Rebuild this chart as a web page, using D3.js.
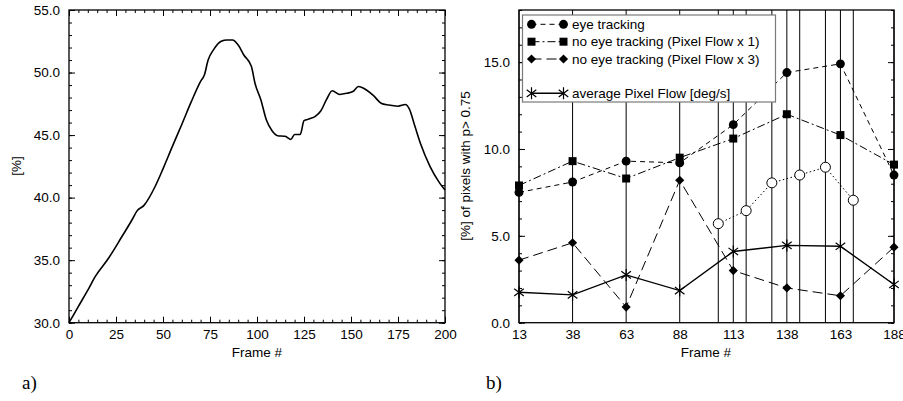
<!DOCTYPE html>
<head>
<script src="https://d3js.org/d3.v7.min.js"></script>
<meta charset="utf-8">
<style>
body { margin: 0; background: #fff; }
text { font-family: "Liberation Sans", Arial, sans-serif; font-size: 13.5px; fill: #000; }
.panel-tag { font-family: "Liberation Serif", "Times New Roman", serif; font-size: 19px; }
.axis path, .axis line { stroke: #000; }
</style>
</head>
<body>
<svg id="chart"></svg>
<script>

// panel a) : overlap percentage per frame
var framesA = [0, 5, 10, 14, 21, 28, 34, 36, 40, 46, 50, 55, 60, 65, 70, 72, 74, 77, 81, 84, 87,
               90, 93, 97, 99, 102, 105, 108, 111, 115, 118, 120, 123, 125, 128, 131, 134, 137,
               140, 144, 148, 151, 154, 158, 162, 166, 170, 175, 179, 181, 184, 187, 192, 197, 200];
var percentA = [30.0, 31.3, 32.6, 33.7, 35.15, 36.85, 38.35, 38.9, 39.4, 40.95, 42.3, 44.1, 45.85,
                47.65, 49.3, 49.8, 51.0, 51.85, 52.5, 52.6, 52.6, 52.2, 51.4, 50.5, 49.1, 47.85,
                46.2, 45.35, 44.95, 44.9, 44.65, 45.05, 45.05, 46.15, 46.3, 46.5, 46.95, 47.85,
                48.55, 48.25, 48.35, 48.48, 48.88, 48.62, 48.15, 47.55, 47.4, 47.31, 47.45, 47.1,
                45.7, 44.3, 42.5, 41.2, 40.6];
var xTicksA = [0, 25, 50, 75, 100, 125, 150, 175, 200];
var yTicksA = [30, 35, 40, 45, 50, 55];

// panel b) : pixels with p > 0.75
var framesB = [13, 38, 63, 88, 113, 138, 163, 188];
var eyeTracking = [7.5, 8.1, 9.3, 9.2, 11.4, 14.4, 14.9, 8.5];
var noEyeX1 = [7.9, 9.3, 8.3, 9.5, 10.6, 12.0, 10.8, 9.1];
var noEyeX3 = [3.6, 4.6, 0.9, 8.2, 3.0, 2.0, 1.55, 4.35];
var avgFlow = [1.75, 1.6, 2.75, 1.85, 4.1, 4.45, 4.4, 2.2];
var framesOpen = [106, 119, 131, 144, 156, 169];
var eyeOpen = [5.7, 6.45, 8.05, 8.5, 8.95, 7.05];
var yTicksB = [0, 5, 10, 15];
var legendLabels = ["eye tracking", "no eye tracking (Pixel Flow x 1)",
                    "no eye tracking (Pixel Flow x 3)", "average Pixel Flow [deg/s]"];

var width = 903, height = 401;
var svg = d3.select("#chart").attr("width", width).attr("height", height);

var plotTop = 10, plotBottom = 322.7;

// ---------- panel a ----------
var xa = d3.scaleLinear().domain([0, 200]).range([69, 445]);
var ya = d3.scaleLinear().domain([30, 55]).range([plotBottom, plotTop]);

function frameAxes(g, x, y, xMajor, xMinor, yMajor, yMinor, fmtY, showXTicks) {
  // minor ticks
  g.append("g").attr("class", "axis").attr("transform", "translate(0," + plotBottom + ")")
    .call(d3.axisBottom(x).tickValues(showXTicks ? xMinor : []).tickSize(-3).tickFormat(""));
  g.append("g").attr("class", "axis").attr("transform", "translate(0," + plotTop + ")")
    .call(d3.axisTop(x).tickValues(showXTicks ? xMinor : []).tickSize(-3).tickFormat(""));
  g.append("g").attr("class", "axis").attr("transform", "translate(" + x.range()[0] + ",0)")
    .call(d3.axisLeft(y).tickValues(yMinor).tickSize(-3).tickFormat(""));
  g.append("g").attr("class", "axis").attr("transform", "translate(" + x.range()[1] + ",0)")
    .call(d3.axisRight(y).tickValues(yMinor).tickSize(-3).tickFormat(""));
  // major ticks + labels
  g.append("g").attr("class", "axis").attr("transform", "translate(0," + plotBottom + ")")
    .call(d3.axisBottom(x).tickValues(xMajor).tickSize(showXTicks ? -6 : 0).tickPadding(7).tickFormat(d3.format("d")));
  g.append("g").attr("class", "axis").attr("transform", "translate(0," + plotTop + ")")
    .call(d3.axisTop(x).tickValues(showXTicks ? xMajor : []).tickSize(-6).tickFormat(""));
  g.append("g").attr("class", "axis").attr("transform", "translate(" + x.range()[0] + ",0)")
    .call(d3.axisLeft(y).tickValues(yMajor).tickSize(-6).tickPadding(9).tickFormat(fmtY));
  g.append("g").attr("class", "axis").attr("transform", "translate(" + x.range()[1] + ",0)")
    .call(d3.axisRight(y).tickValues(yMajor).tickSize(-6).tickFormat(""));
  g.selectAll(".axis text").style("font-size", "13.5px").style("font-family", "Liberation Sans, Arial, sans-serif");
  g.selectAll(".axis .domain").remove();
  g.append("rect")
    .attr("x", x.range()[0]).attr("y", plotTop)
    .attr("width", x.range()[1] - x.range()[0]).attr("height", plotBottom - plotTop)
    .attr("fill", "none").attr("stroke", "#000").attr("stroke-width", 1.3);
}

var ga = svg.append("g");
frameAxes(ga, xa, ya, xTicksA, d3.range(0, 201, 5), yTicksA, d3.range(30, 56, 1), d3.format(".1f"), true);

ga.append("path")
  .datum(framesA.map((f, i) => [f, percentA[i]]))
  .attr("fill", "none").attr("stroke", "#000").attr("stroke-width", 1.6)
  .attr("d", d3.line().x(d => xa(d[0])).y(d => ya(d[1])).curve(d3.curveMonotoneX));

ga.append("text").attr("x", 257).attr("y", 357).attr("text-anchor", "middle").text("Frame #");
ga.append("text").attr("transform", "translate(21,166) rotate(-90)")
  .attr("text-anchor", "middle").text("[%]");
ga.append("text").attr("class", "panel-tag").attr("x", 22).attr("y", 389).text("a)");

// ---------- panel b ----------
var xb = d3.scaleLinear().domain([13, 188]).range([519, 894]);
var yb = d3.scaleLinear().domain([0, 18]).range([plotBottom, plotTop]);

var gb = svg.append("g");

// vertical lines at every sampled frame
gb.append("g").selectAll("line")
  .data(framesB.concat(framesOpen))
  .join("line")
  .attr("x1", d => xb(d)).attr("x2", d => xb(d))
  .attr("y1", plotTop).attr("y2", plotBottom)
  .attr("stroke", "#000").attr("stroke-width", 1);

frameAxes(gb, xb, yb, framesB, [], yTicksB, d3.range(0, 19, 1), d3.format(".1f"), false);

var lineB = d3.line().x(d => xb(d[0])).y(d => yb(d[1]));

function star(sel, r) {
  var a = r * 0.8, b = r * 0.6;
  sel.attr("d", "M0," + (-r) + "L0," + r +
    "M" + (-a) + "," + (-b) + "L" + a + "," + b +
    "M" + (-a) + "," + b + "L" + a + "," + (-b))
    .attr("fill", "none").attr("stroke", "#000").attr("stroke-width", 1.2);
}

var series = [
  { vals: eyeTracking, dash: "5,4", symbol: d3.symbolCircle, size: 62, rot: 0 },
  { vals: noEyeX1, dash: "8,3,2,3", symbol: d3.symbolSquare, size: 64, rot: 0 },
  { vals: noEyeX3, dash: "10,5", symbol: d3.symbolSquare, size: 42, rot: 45 },
  { vals: avgFlow, dash: null, symbol: "star", size: 6, rot: 0 }
];

// dotted series with open circles
gb.append("path")
  .datum(framesOpen.map((f, i) => [f, eyeOpen[i]]))
  .attr("fill", "none").attr("stroke", "#000").attr("stroke-width", 1)
  .attr("stroke-dasharray", "1.5,2.5").attr("d", lineB);
gb.append("g").selectAll("circle")
  .data(framesOpen.map((f, i) => [f, eyeOpen[i]]))
  .join("circle")
  .attr("cx", d => xb(d[0])).attr("cy", d => yb(d[1])).attr("r", 5)
  .attr("fill", "#fff").attr("stroke", "#000").attr("stroke-width", 1);

function drawMarker(g, s, x, y) {
  if (s.symbol === "star") {
    g.append("path").attr("transform", "translate(" + x + "," + y + ")").call(star, s.size);
  } else {
    g.append("path").attr("transform", "translate(" + x + "," + y + ") rotate(" + s.rot + ")")
      .attr("d", d3.symbol().type(s.symbol).size(s.size)()).attr("fill", "#000");
  }
}

series.forEach(s => {
  gb.append("path")
    .datum(framesB.map((f, i) => [f, s.vals[i]]))
    .attr("fill", "none").attr("stroke", "#000").attr("stroke-width", s.dash ? 1 : 1.4)
    .attr("stroke-dasharray", s.dash).attr("d", lineB);
  var mg = gb.append("g");
  framesB.forEach((f, i) => drawMarker(mg, s, xb(f), yb(s.vals[i])));
});

// legend
var lg = gb.append("g");
lg.append("rect").attr("x", 522.5).attr("y", 15).attr("width", 253).attr("height", 87)
  .attr("fill", "#fff").attr("stroke", "#7a7a7a").attr("stroke-width", 1.2);
var rowY = [24.3, 41.7, 59, 93.3];
series.forEach((s, i) => {
  lg.append("line").attr("x1", 531.5).attr("x2", 563.5).attr("y1", rowY[i]).attr("y2", rowY[i])
    .attr("stroke", "#000").attr("stroke-width", s.dash ? 1 : 1.4).attr("stroke-dasharray", s.dash);
  drawMarker(lg, s, 531.5, rowY[i]);
  drawMarker(lg, s, 563.5, rowY[i]);
  lg.append("text").attr("x", 572).attr("y", rowY[i]).attr("dy", "0.35em").text(legendLabels[i]);
});

gb.append("text").attr("x", 706).attr("y", 357).attr("text-anchor", "middle").text("Frame #");
gb.append("text").attr("transform", "translate(470,166) rotate(-90)")
  .attr("text-anchor", "middle").text("[%] of pixels with p> 0.75");
gb.append("text").attr("class", "panel-tag").attr("x", 486).attr("y", 389).text("b)");

</script>
</body>
